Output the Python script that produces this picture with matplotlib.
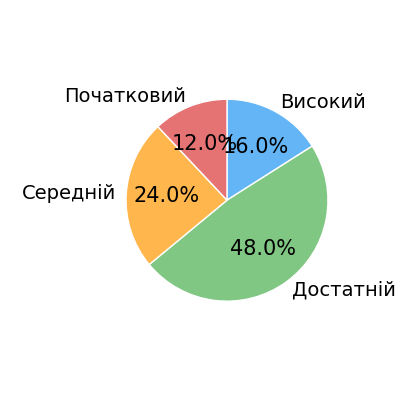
import matplotlib
matplotlib.use("Agg")
import matplotlib.pyplot as plt

labels = ["Високий", "Достатній", "Середній", "Початковий"]
values = [16, 48, 24, 12]
colors = ["#64b5f6", "#81c784", "#ffb74d", "#e57373"]

fig = plt.figure(figsize=(4, 4), dpi=100)
ax = fig.add_axes([0.252, 0.184, 0.631, 0.631])

wedges, texts, autotexts = ax.pie(values, labels=labels, colors=colors,
                                  autopct="%1.1f%%", startangle=90, counterclock=False,
                                  wedgeprops={"edgecolor": "white", "linewidth": 1})
for t in texts:
    t.set_fontsize(14)
for t in autotexts:
    t.set_fontsize(15)
ax.set_aspect("equal")

fig.savefig("out.png", dpi=100)
